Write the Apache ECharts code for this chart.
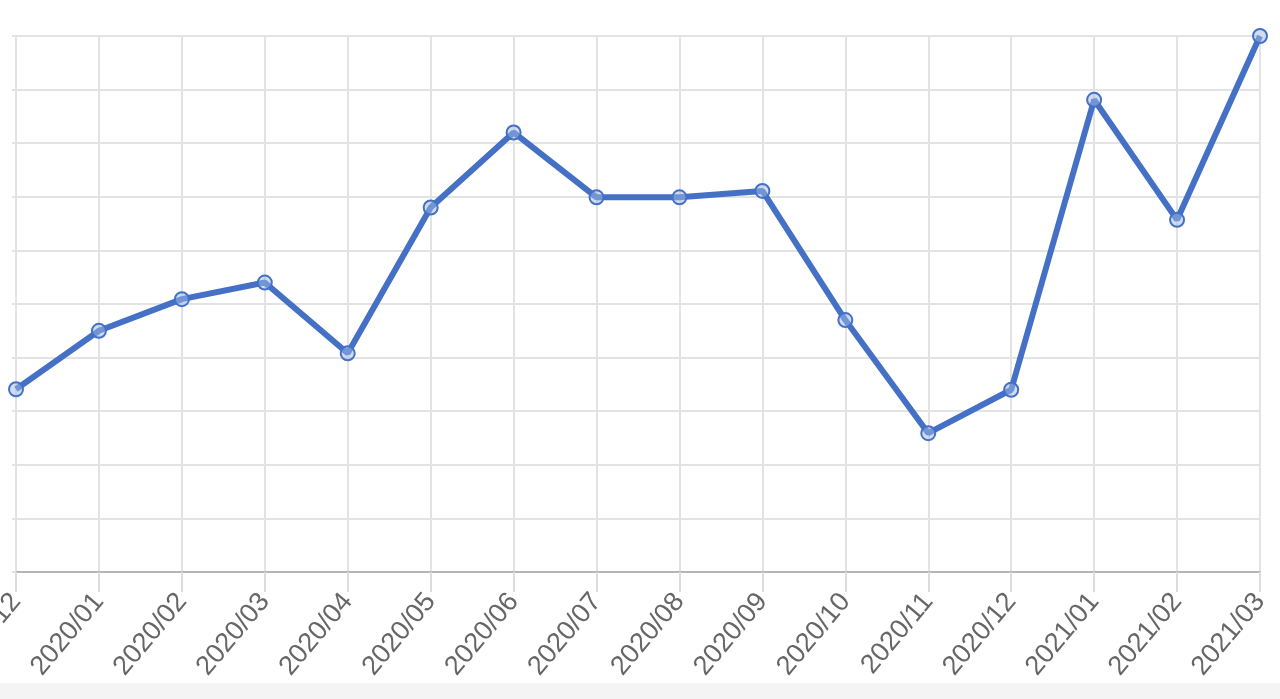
<!DOCTYPE html>
<html>
<head>
<meta charset="utf-8">
<script src="https://cdn.jsdelivr.net/npm/echarts@6/dist/echarts.min.js"></script>
<style>
  html, body { margin: 0; padding: 0; background: #fff; }
  #chart { width: 1280px; height: 699px; }
</style>
</head>
<body>
<div id="chart"></div>
<script>
// 月份
var months = ['2019/12', '2020/01', '2020/02', '2020/03', '2020/04', '2020/05', '2020/06', '2020/07',
	'2020/08', '2020/09', '2020/10', '2020/11', '2020/12', '2021/01', '2021/02', '2021/03'];
// 数值
var values = [34.1, 45.0, 50.9, 54.0, 40.8, 68.0, 82.0, 69.9, 69.9, 71.1, 47.0, 25.9, 34.0, 88.1, 65.7, 100];

var yMin = 0;
var yMax = 100;
var yStep = 10;

var lineColor = '#4470c6';
var gridColor = '#e3e3e3';

var myChart = echarts.init(document.getElementById('chart'));

var option = {
	animation: false,
	backgroundColor: '#fff',
	grid: {
		left: 16,
		right: 20,
		top: 36,
		bottom: 127,
		containLabel: false,
		outerBoundsMode: 'none'
	},
	graphic: [{
		type: 'rect',
		left: 0,
		bottom: 0,
		shape: { width: 1280, height: 16 },
		style: { fill: '#f4f4f4' },
		silent: true
	}],
	xAxis: {
		type: 'category',
		boundaryGap: false,
		data: months,
		axisLine: { show: true, lineStyle: { color: '#b5b5b5', width: 2 } },
		axisTick: { show: true, inside: false, length: 20, interval: 0, lineStyle: { color: '#dcdcdc', width: 2 } },
		axisLabel: {
			rotate: 50,
			margin: 25,
			color: '#666666',
			fontSize: 27,
			fontFamily: 'Liberation Sans, Arial, sans-serif',
			interval: 0
		},
		splitLine: { show: true, lineStyle: { color: gridColor, width: 2 } }
	},
	yAxis: {
		type: 'value',
		min: yMin,
		max: yMax,
		interval: yStep,
		axisLine: { show: true, lineStyle: { color: gridColor, width: 2 } },
		axisTick: { show: true, length: 4, lineStyle: { color: gridColor, width: 2 } },
		axisLabel: { show: false },
		splitLine: { show: true, lineStyle: { color: gridColor, width: 2 } }
	},
	series: [{
		type: 'line',
		data: values,
		smooth: false,
		symbol: 'circle',
		symbolSize: 14,
		showAllSymbol: true,
		lineStyle: { color: lineColor, width: 6 },
		itemStyle: {
			color: 'rgba(160,185,230,0.5)',
			borderColor: lineColor,
			borderWidth: 2
		},
		z: 3
	}]
};

myChart.setOption(option);
</script>
</body>
</html>
